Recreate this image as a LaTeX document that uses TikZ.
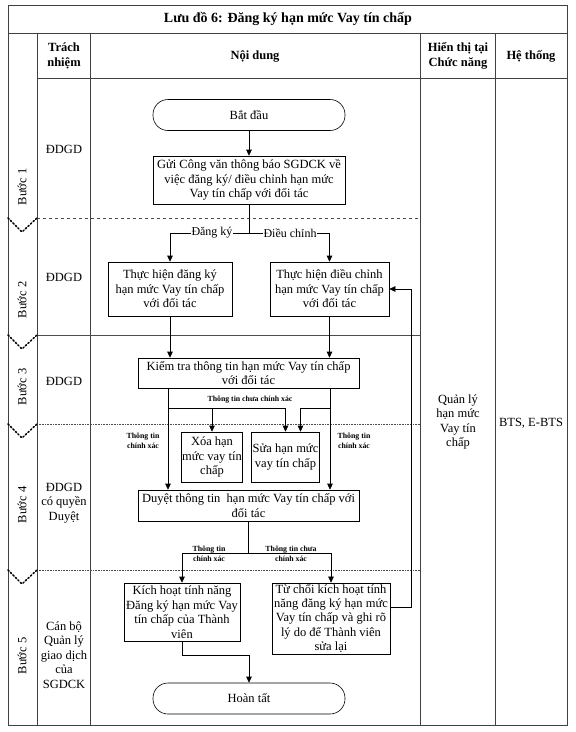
\documentclass[tikz,border=0pt]{standalone}
\usepackage{fontspec}
\setmainfont{Liberation Serif}
\usetikzlibrary{arrows.meta,positioning,calc}

\begin{document}
\begin{tikzpicture}[x=1pt, y=-1pt, font=\fontsize{12.5}{14.5}\selectfont,
  >={Triangle[length=6pt,width=5.5pt]},
  frame/.style={draw=black!75, line width=0.8pt},
  lane/.style={draw=black!70, line width=0.6pt},
  chev/.style={draw=black, line width=1.5pt, dotted, line cap=round},
  box/.style={draw, line width=0.6pt, align=center, inner sep=1pt},
  term/.style={box, rounded corners=15pt, minimum width=192pt, minimum height=31pt},
  head/.style={font=\bfseries\fontsize{12.5}{14.5}\selectfont, align=center},
  tiny/.style={font=\bfseries\fontsize{7.8}{9.5}\selectfont, align=center, inner sep=1pt},
  flow/.style={line width=0.6pt}]

\useasboundingbox (0,0) rectangle (576,732);

% Table frame
\draw[frame] (8,5) rectangle (567,725);
\draw[frame] (8,33) -- (567,33);
\draw[frame] (37,78) -- (567,78);
\foreach \cx in {37,90,420,495}
  \draw[frame] (\cx,33) -- (\cx,725);

\node[font=\bfseries\fontsize{14}{16}\selectfont] (title) at (288,19) {Lưu đồ 6: Đăng ký hạn mức Vay tín chấp};
\node[head] (hresp) at (64,56) {Trách\\nhiệm};
\node[head] (hcont) at (255,56) {Nội dung};
\node[head] (hview) at (458,56) {Hiển thị tại\\Chức năng};
\node[head] (hsys) at (531,56) {Hệ thống};

% Lanes
\draw[lane, dashed] (37,218) -- (420,218);
\draw[lane] (37,335) -- (420,335);
\draw[lane, densely dotted] (37,424) -- (420,424);
\draw[lane, densely dotted] (37,570) -- (420,570);
\foreach \ly in {218,335,424,570}
  \draw[chev] (8,\ly) -- (22,\ly+14) -- (37,\ly);

\node[rotate=90] (s1) at (22,187) {Bước 1};
\node[rotate=90] (s2) at (22,300) {Bước 2};
\node[rotate=90] (s3) at (22,387) {Bước 3};
\node[rotate=90] (s4) at (22,505) {Bước 4};
\node[rotate=90] (s5) at (22,656) {Bước 5};

\node (r1) at (64,149) {ĐDGD};
\node (r2) at (64,277) {ĐDGD};
\node (r3) at (64,381) {ĐDGD};
\node[align=center] (r4) at (64,503) {ĐDGD\\có quyền\\Duyệt};
\node[align=center] (r5) at (64,655) {Cán bộ\\Quản lý\\giao dịch\\của\\SGDCK};

\node[align=center] (view) at (458,422) {Quản lý\\hạn mức\\Vay tín\\chấp};
\node (sys) at (531,423) {BTS, E-BTS};

% Flow
\node[term] (start) at (249,115) {Bắt đầu};
\node[box, minimum width=192pt, minimum height=48pt] (notify) at (249,180)
  {Gửi Công văn thông báo SGDCK về\\việc đăng ký/ điều chỉnh hạn mức\\Vay tín chấp với đối tác};
\node[box, minimum width=124pt, minimum height=54pt] (register) at (170,289)
  {Thực hiện đăng ký\\hạn mức Vay tín chấp\\với đối tác};
\node[box, minimum width=119pt, minimum height=54pt] (adjust) at (329.5,289)
  {Thực hiện điều chỉnh\\hạn mức Vay tín chấp\\với đối tác};
\node[box, minimum width=221pt, minimum height=30pt] (check) at (248.5,373)
  {Kiểm tra thông tin hạn mức Vay tín chấp\\với đối tác};
\node[box, minimum width=58pt, minimum height=50pt] (del) at (212,457)
  {Xóa hạn\\mức vay tín\\chấp};
\node[box, minimum width=59pt, minimum height=50pt] (edit) at (285.5,457)
  {Sửa hạn mức\\vay tín chấp};
\node[box, minimum width=221pt, minimum height=31pt] (approve) at (248.5,505.5)
  {Duyệt thông tin~ hạn mức Vay tín chấp với\\đối tác};
\node[box, minimum width=116pt, minimum height=58pt] (activate) at (182,612)
  {Kích hoạt tính năng\\Đăng ký hạn mức Vay\\tín chấp của Thành\\viên};
\node[box, minimum width=118pt, minimum height=71pt] (reject) at (331,618.5)
  {Từ chối kích hoạt tính\\năng đăng ký hạn mức\\Vay tín chấp và ghi rõ\\lý do để Thành viên\\sửa lại};
\node[term] (done) at (249,698.5) {Hoàn tất};

\draw[flow, ->] (start) -- (notify);

% Branch: register / adjust
\coordinate (split1) at (249,233);
\draw[flow] (notify.south) -- (split1);
\draw[flow, ->] (split1) -| (register.north);
\draw[flow, ->] (split1) -| (adjust.north);
\node[fill=white, inner sep=1pt, font=\fontsize{12}{13}\selectfont] (lreg) at (212,233) {Đăng ký};
\node[fill=white, inner sep=1pt, font=\fontsize{12}{13}\selectfont] (ladj) at (290,233) {Điều chỉnh};

\draw[flow, ->] (register.south) -- (register.south |- check.north);
\draw[flow, ->] (adjust.south) -- (adjust.south |- check.north);

% Check results
\coordinate (cL) at (168,408);
\coordinate (cR) at (330,408);
\draw[flow, ->] (check.south -| cL) -- (approve.north -| cL);
\draw[flow, ->] (check.south -| cR) -- (approve.north -| cR);
\draw[flow, ->] (cL) -| (edit.north);
\draw[flow, ->] (cL -| del.north) -- (del.north);
\draw[flow, ->] (cR) -| ([xshift=15pt]edit.north);
\node[tiny] (lwrong) at (250,400) {Thông tin chưa chính xác};
\node[tiny] (lokL) at (143,441) {Thông tin\\chính xác};
\node[tiny] (lokR) at (354,441) {Thông tin\\chính xác};

% Approval results
\coordinate (split2) at (248.5,553);
\draw[flow] (approve.south) -- (split2);
\draw[flow, ->] (split2) -| (activate.north);
\draw[flow, ->] (split2) -| (reject.north);
\node[tiny] (lyes) at (209,554) {Thông tin\\chính xác};
\node[tiny] (lno) at (291,554) {Thông tin chưa\\chính xác};

\draw[flow, ->] (activate.south) |- ($(done.north)+(0,-27)$) -- (done.north);

% Feedback loop
\coordinate (fb) at (411,607);
\draw[flow, ->] (reject.east |- fb) -- (fb) |- (adjust.east);
\end{tikzpicture}
\end{document}
